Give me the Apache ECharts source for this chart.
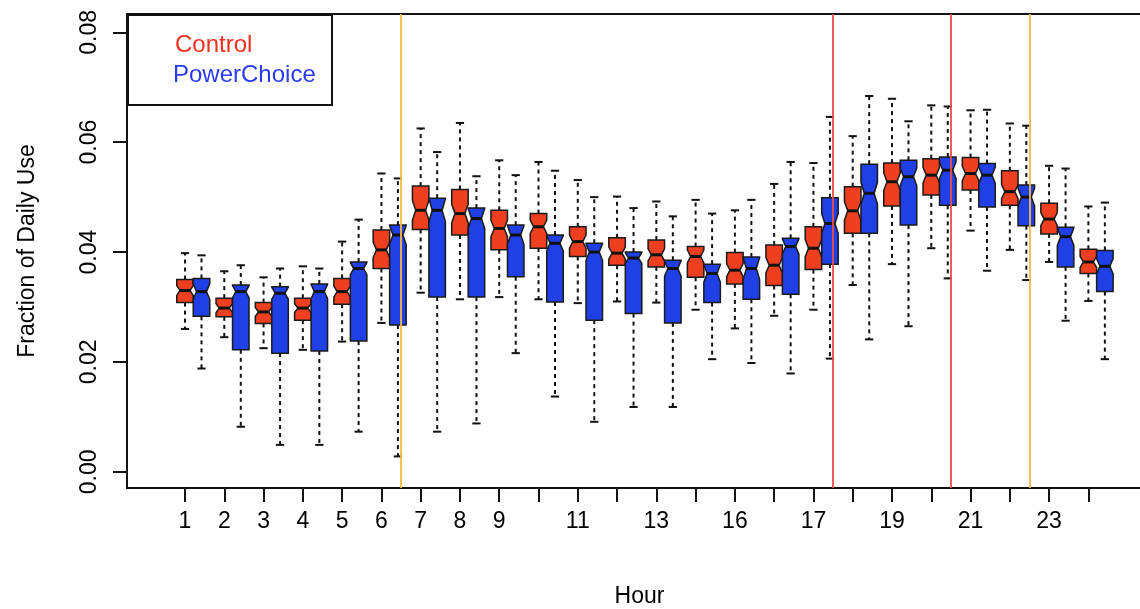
<!DOCTYPE html>
<html>
<head>
<meta charset="utf-8">
<title>Fraction of Daily Use by Hour</title>
<script src="https://cdn.jsdelivr.net/npm/echarts@6/dist/echarts.min.js"></script>
<style>
  html, body { margin: 0; padding: 0; background: #fff; }
  #main { width: 1140px; height: 609px; }
</style>
</head>
<body>
<div id="main"></div>
<script>
// hours and the labels R printed under the ticks
const hours = [1, 2, 3, 4, 5, 6, 7, 8, 9, 10, 11, 12, 13, 14, 15, 16, 17, 18, 19, 20, 21, 22, 23, 24];
const tickLabels = ['1', '2', '3', '4', '5', '6', '7', '8', '9', '', '11', '', '13', '', '16', '', '17', '', '19', '', '21', '', '23', ''];
const yTicks = [0, 0.02, 0.04, 0.06, 0.08];

// Control group (red boxes)
const controlLow    = [0.0260, 0.0245, 0.0225, 0.0222, 0.0237, 0.0271, 0.0326, 0.0314, 0.0318, 0.0314, 0.0307, 0.0310, 0.0308, 0.0295, 0.0261, 0.0284, 0.0295, 0.0340, 0.0378, 0.0407, 0.0439, 0.0404, 0.0382, 0.0311];
const controlQ1     = [0.0308, 0.0282, 0.0270, 0.0276, 0.0305, 0.0370, 0.0441, 0.0431, 0.0404, 0.0407, 0.0392, 0.0376, 0.0373, 0.0354, 0.0342, 0.0339, 0.0368, 0.0434, 0.0484, 0.0504, 0.0513, 0.0485, 0.0433, 0.0361];
const controlMedian = [0.0330, 0.0298, 0.0291, 0.0298, 0.0328, 0.0404, 0.0476, 0.0470, 0.0443, 0.0446, 0.0419, 0.0398, 0.0395, 0.0392, 0.0367, 0.0376, 0.0407, 0.0475, 0.0528, 0.0540, 0.0543, 0.0510, 0.0460, 0.0382];
const controlQ3     = [0.0350, 0.0316, 0.0308, 0.0316, 0.0352, 0.0440, 0.0520, 0.0514, 0.0476, 0.0470, 0.0446, 0.0426, 0.0422, 0.0410, 0.0399, 0.0413, 0.0446, 0.0519, 0.0562, 0.0570, 0.0572, 0.0548, 0.0489, 0.0405];
const controlHigh   = [0.0398, 0.0365, 0.0354, 0.0374, 0.0419, 0.0543, 0.0625, 0.0635, 0.0567, 0.0564, 0.0531, 0.0501, 0.0492, 0.0495, 0.0476, 0.0524, 0.0562, 0.0611, 0.0679, 0.0667, 0.0658, 0.0634, 0.0557, 0.0483];
const controlNotch  = [0.0009, 0.0008, 0.0008, 0.0008, 0.0010, 0.0014, 0.0018, 0.0017, 0.0015, 0.0012, 0.0012, 0.0011, 0.0011, 0.0012, 0.0012, 0.0014, 0.0016, 0.0017, 0.0016, 0.0014, 0.0013, 0.0013, 0.0012, 0.0010];

// PowerChoice group (blue boxes)
const powerLow    = [0.0188, 0.0082, 0.0049, 0.0049, 0.0073, 0.0028, 0.0073, 0.0088, 0.0216, 0.0137, 0.0091, 0.0118, 0.0118, 0.0205, 0.0198, 0.0179, 0.0206, 0.0241, 0.0265, 0.0352, 0.0366, 0.0349, 0.0275, 0.0205];
const powerQ1     = [0.0283, 0.0222, 0.0216, 0.0220, 0.0238, 0.0267, 0.0318, 0.0318, 0.0355, 0.0309, 0.0276, 0.0288, 0.0271, 0.0308, 0.0314, 0.0323, 0.0378, 0.0434, 0.0449, 0.0485, 0.0482, 0.0448, 0.0373, 0.0328];
const powerMedian = [0.0328, 0.0328, 0.0325, 0.0328, 0.0370, 0.0431, 0.0476, 0.0461, 0.0431, 0.0416, 0.0400, 0.0389, 0.0370, 0.0361, 0.0370, 0.0410, 0.0452, 0.0507, 0.0537, 0.0549, 0.0540, 0.0500, 0.0428, 0.0374];
const powerQ3     = [0.0352, 0.0340, 0.0337, 0.0342, 0.0382, 0.0449, 0.0498, 0.0480, 0.0449, 0.0431, 0.0416, 0.0400, 0.0385, 0.0378, 0.0391, 0.0425, 0.0499, 0.0560, 0.0567, 0.0573, 0.0561, 0.0522, 0.0445, 0.0403];
const powerHigh   = [0.0394, 0.0376, 0.0370, 0.0370, 0.0459, 0.0534, 0.0582, 0.0538, 0.0540, 0.0548, 0.0500, 0.0480, 0.0465, 0.0470, 0.0495, 0.0564, 0.0646, 0.0684, 0.0638, 0.0665, 0.0659, 0.0630, 0.0552, 0.0490];
const powerNotch  = [0.0014, 0.0011, 0.0011, 0.0013, 0.0011, 0.0017, 0.0021, 0.0018, 0.0017, 0.0014, 0.0015, 0.0010, 0.0014, 0.0016, 0.0020, 0.0014, 0.0018, 0.0020, 0.0016, 0.0015, 0.0015, 0.0016, 0.0016, 0.0014];

// vertical reference lines (hour position) and their colours
const dividerHours = [6.5, 17.5, 20.5, 22.5];
const dividerColors = ['#f4b942', '#e8504a', '#e8504a', '#f4b942'];

const FONT = 'Liberation Sans';
const BOX_W = 0.42;

function rows(low, q1, med, q3, high, notch) {
  return hours.map((h, i) => [h, low[i], q1[i], med[i], q3[i], high[i], notch[i]]);
}

// notched box like R's bxp: polygon pinches in at the median
function makeBox(offset, fill) {
  return function (params, api) {
    const x = api.value(0) + offset;
    const med = api.value(3);
    const nt = api.value(6);
    const hw = api.size([BOX_W, 0])[0] / 2;
    const cx = api.coord([x, med])[0];
    const py = v => api.coord([x, v])[1];
    const yLow = py(api.value(1)), yQ1 = py(api.value(2)), yMed = py(med);
    const yQ3 = py(api.value(4)), yHigh = py(api.value(5));
    const yCL = py(med - nt), yCH = py(med + nt);
    const xl = cx - hw, xr = cx + hw, xnl = cx - hw * 0.6, xnr = cx + hw * 0.6;
    const sw = hw * 0.5;
    const whisk = { stroke: '#111', lineWidth: 2, lineDash: [4, 4] };
    const staple = { stroke: '#111', lineWidth: 2 };
    return {
      type: 'group',
      children: [
        { type: 'line', shape: { x1: cx, y1: yQ3, x2: cx, y2: yHigh }, style: whisk },
        { type: 'line', shape: { x1: cx, y1: yQ1, x2: cx, y2: yLow }, style: whisk },
        { type: 'line', shape: { x1: cx - sw, y1: yHigh, x2: cx + sw, y2: yHigh }, style: staple },
        { type: 'line', shape: { x1: cx - sw, y1: yLow, x2: cx + sw, y2: yLow }, style: staple },
        {
          type: 'polygon',
          shape: {
            points: [[xl, yQ1], [xr, yQ1], [xr, yCL], [xnr, yMed], [xr, yCH], [xr, yQ3],
                     [xl, yQ3], [xl, yCH], [xnl, yMed], [xl, yCL]]
          },
          style: { fill: fill, stroke: '#1a1a1a', lineWidth: 1.5 }
        },
        { type: 'line', shape: { x1: xnl, y1: yMed, x2: xnr, y2: yMed }, style: { stroke: '#111', lineWidth: 3 } }
      ]
    };
  };
}

const chart = echarts.init(document.getElementById('main'));

chart.setOption({
  backgroundColor: '#fff',
  animation: false,
  textStyle: { fontFamily: FONT },
  grid: {
    left: 127, right: -12, top: 14, bottom: 121,
    outerBoundsMode: 'none',
    show: true, borderColor: '#111', borderWidth: 2
  },
  xAxis: {
    type: 'value',
    min: -0.477,
    max: 25.62,
    name: 'Hour',
    nameLocation: 'middle',
    nameGap: 97,
    nameTextStyle: { fontSize: 23, color: '#000', fontFamily: FONT },
    axisLine: { show: true, onZero: false, lineStyle: { color: '#111', width: 2 } },
    axisTick: { show: true, customValues: hours, length: 14, lineStyle: { color: '#111', width: 2 } },
    axisLabel: {
      customValues: hours,
      margin: 22,
      fontSize: 23,
      color: '#000',
      fontFamily: FONT,
      formatter: v => tickLabels[hours.indexOf(v)] || ''
    },
    splitLine: { show: false }
  },
  yAxis: {
    type: 'value',
    min: -0.00295,
    max: 0.08333,
    name: 'Fraction of Daily Use',
    nameLocation: 'middle',
    nameGap: 88,
    nameTextStyle: { fontSize: 23, color: '#000', fontFamily: FONT },
    axisLine: { show: true, onZero: false, lineStyle: { color: '#111', width: 2 } },
    axisTick: { show: true, customValues: yTicks, length: 14, lineStyle: { color: '#111', width: 2 } },
    axisLabel: {
      customValues: yTicks,
      rotate: 90,
      margin: 26,
      fontSize: 23,
      color: '#000',
      fontFamily: FONT,
      formatter: v => v.toFixed(2)
    },
    splitLine: { show: false }
  },
  graphic: [
    {
      type: 'rect', left: 127, top: 14, z: 100,
      shape: { width: 204, height: 90 },
      style: { fill: '#fff', stroke: '#111', lineWidth: 2 }
    },
    {
      type: 'text', left: 175, top: 33, z: 101,
      style: { text: 'Control', fill: '#f0301e', fontSize: 24, fontFamily: FONT }
    },
    {
      type: 'text', left: 173, top: 63, z: 101,
      style: { text: 'PowerChoice', fill: '#2b3bf0', fontSize: 24, fontFamily: FONT }
    }
  ],
  series: [
    {
      name: 'Control',
      type: 'custom',
      renderItem: makeBox(0, '#ee4020'),
      encode: { x: 0, y: [1, 5] },
      data: rows(controlLow, controlQ1, controlMedian, controlQ3, controlHigh, controlNotch)
    },
    {
      name: 'PowerChoice',
      type: 'custom',
      renderItem: makeBox(BOX_W, '#2040e6'),
      encode: { x: 0, y: [1, 5] },
      data: rows(powerLow, powerQ1, powerMedian, powerQ3, powerHigh, powerNotch),
      markLine: {
        silent: true,
        symbol: 'none',
        label: { show: false },
        z: 10,
        data: dividerHours.map((h, i) => ({
          xAxis: h,
          lineStyle: { color: dividerColors[i], width: 2, type: 'solid', opacity: 0.9 }
        }))
      }
    }
  ]
});
</script>
</body>
</html>
